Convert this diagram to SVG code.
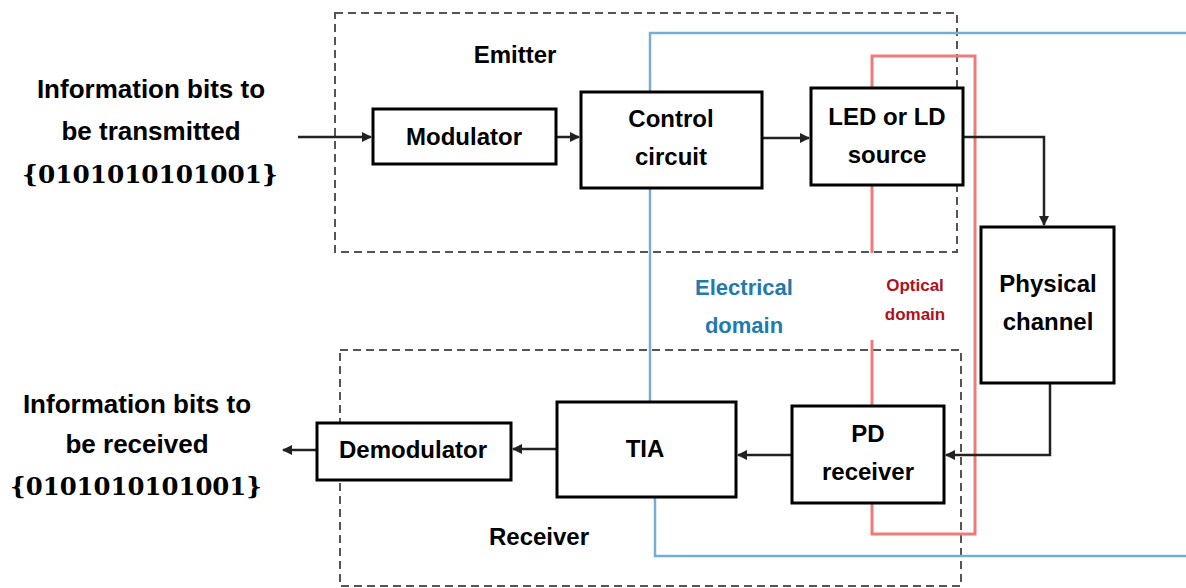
<svg xmlns="http://www.w3.org/2000/svg" width="1186" height="588" viewBox="0 0 1186 588">
<defs>
<style>
.bg{fill:#ffffff}
.zone{fill:none;stroke:#555;stroke-width:2;stroke-dasharray:8 5}
.elec{fill:none;stroke:#74afd3;stroke-width:2.5}
.opt{fill:none;stroke:#ee7a7a;stroke-width:3}
.box{fill:#fff;stroke:#000;stroke-width:3}
.conn{fill:none;stroke:#222;stroke-width:2.5;marker-end:url(#arr)}
.lbl{font-family:"Liberation Sans",Arial,sans-serif;font-weight:bold;font-size:24px;fill:#000;text-anchor:middle}
.info{font-family:"Liberation Sans",Arial,sans-serif;font-weight:bold;font-size:26px;fill:#000;text-anchor:middle}
.bits{font-family:"DejaVu Serif","Liberation Serif",serif;font-weight:bold;font-size:24px;fill:#000;text-anchor:middle}
.etxt{font-family:"Liberation Sans",Arial,sans-serif;font-weight:bold;font-size:22px;fill:#1f7ab0;text-anchor:middle}
.otxt{font-family:"Liberation Sans",Arial,sans-serif;font-weight:bold;font-size:17px;fill:#b0101c;text-anchor:middle}
</style>
<marker id="arr" viewBox="0 0 10 10" refX="9" refY="5" markerWidth="4" markerHeight="4" orient="auto" markerUnits="strokeWidth">
<path d="M0,0 L10,5 L0,10 z" fill="#222"/>
</marker>
</defs>
<rect class="bg" x="0" y="0" width="1186" height="588"/>

<g id="zones">
<rect class="zone" x="335" y="13" width="622" height="239"/>
<rect class="zone" x="340" y="350" width="621" height="236"/>
</g>

<g id="domains">
<path class="elec" d="M650,402 V33 H1186"/>
<path class="elec" d="M655,497 V556 H1186"/>
<path class="opt" d="M872,88 V56 H975 V534 H872 V503"/>
<path class="opt" d="M872,185 V253"/>
<path class="opt" d="M872,340 V406"/>
</g>

<g id="connectors">
<path class="conn" d="M298,137 H371"/>
<path class="conn" d="M556,137 H579"/>
<path class="conn" d="M762,138 H809"/>
<path class="conn" d="M963,137 H1044 V225"/>
<path class="conn" d="M1050,383 V455 H946"/>
<path class="conn" d="M792,455 H738"/>
<path class="conn" d="M557,449 H513"/>
<path class="conn" d="M317,450 H283"/>
</g>

<g id="modulator">
<rect class="box" x="373" y="109" width="183" height="55"/>
<text class="lbl" x="464" y="145">Modulator</text>
</g>
<g id="control-circuit">
<rect class="box" x="581" y="92" width="181" height="96"/>
<text class="lbl" x="671" y="127">Control</text>
<text class="lbl" x="671" y="165">circuit</text>
</g>
<g id="led-source">
<rect class="box" x="811" y="88" width="152" height="97"/>
<text class="lbl" x="887" y="125">LED or LD</text>
<text class="lbl" x="887" y="163">source</text>
</g>
<g id="physical-channel">
<rect class="box" x="981" y="227" width="133" height="156"/>
<text class="lbl" x="1048" y="292">Physical</text>
<text class="lbl" x="1048" y="330">channel</text>
</g>
<g id="pd-receiver">
<rect class="box" x="792" y="406" width="152" height="97"/>
<text class="lbl" x="868" y="442">PD</text>
<text class="lbl" x="868" y="480">receiver</text>
</g>
<g id="tia">
<rect class="box" x="557" y="402" width="179" height="95"/>
<text class="lbl" x="645" y="457">TIA</text>
</g>
<g id="demodulator">
<rect class="box" x="317" y="423" width="194" height="57"/>
<text class="lbl" x="413" y="458">Demodulator</text>
</g>

<g id="labels">
<text class="lbl" x="515" y="63">Emitter</text>
<text class="lbl" x="539" y="545">Receiver</text>
<text class="info" x="151" y="98">Information bits to</text>
<text class="info" x="151" y="140">be transmitted</text>
<text class="bits" x="150" y="183" textLength="256" lengthAdjust="spacingAndGlyphs">{0101010101001}</text>
<text class="info" x="137" y="413">Information bits to</text>
<text class="info" x="137" y="453">be received</text>
<text class="bits" x="136" y="495" textLength="252" lengthAdjust="spacingAndGlyphs">{0101010101001}</text>
<text class="etxt" x="744" y="295">Electrical</text>
<text class="etxt" x="744" y="333">domain</text>
<text class="otxt" x="915" y="291">Optical</text>
<text class="otxt" x="915" y="320">domain</text>
</g>
</svg>
